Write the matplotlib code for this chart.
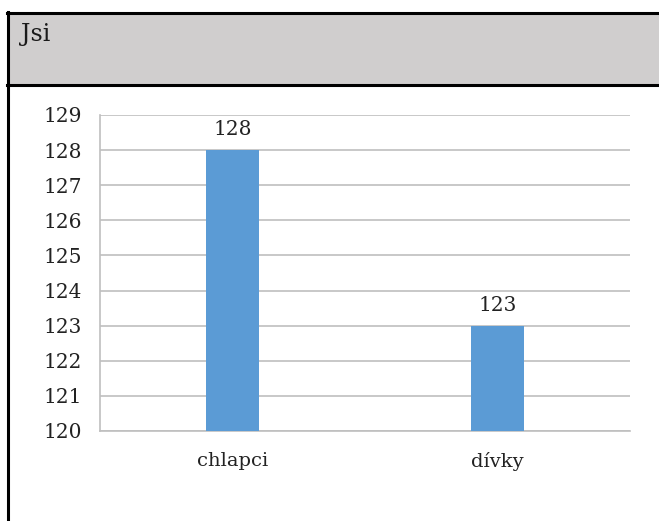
import matplotlib
matplotlib.use("Agg")
import matplotlib.pyplot as plt
from matplotlib.patches import Rectangle
from matplotlib.lines import Line2D

title = "Jsi"
categories = ["chlapci", "dívky"]
values = [128, 123]
y_ticks = [120, 121, 122, 123, 124, 125, 126, 127, 128, 129]

W, H = 659, 521
fig = plt.figure(figsize=(W / 100, H / 100), dpi=100)
plt.rcParams["font.family"] = ["DejaVu Serif"]

def fx(px):
    return px / W

def fy(py):
    return 1 - py / H

# header band with title
fig.patches.append(Rectangle((fx(8), fy(85)), 1 - fx(8), fy(13) - fy(85),
                             transform=fig.transFigure, facecolor="#D0CECE",
                             edgecolor="none", zorder=0))
fig.lines.append(Line2D([fx(7), 1], [fy(12.5), fy(12.5)], transform=fig.transFigure,
                        color="black", lw=2.2))
fig.lines.append(Line2D([fx(7), 1], [fy(85), fy(85)], transform=fig.transFigure,
                        color="black", lw=2.2))
fig.lines.append(Line2D([fx(7.5), fx(7.5)], [fy(11.5), 0], transform=fig.transFigure,
                        color="black", lw=2.2))
fig.text(fx(21), fy(34), title, fontsize=17, color="#1a1a1a",
         ha="left", va="center")

ax = fig.add_axes([fx(100), fy(431), fx(630) - fx(100), fy(115) - fy(431)])
x = list(range(len(categories)))
bars = ax.bar(x, values, width=0.2, bottom=0, color="#5B9BD5", zorder=3)
ax.set_xlim(-0.5, len(categories) - 0.5)
ax.set_ylim(y_ticks[0], y_ticks[-1])
ax.set_yticks(y_ticks)
ax.set_xticks(x)
ax.set_xticklabels(categories)
ax.grid(axis="y", color="#BFBFBF", lw=1.2, zorder=0)
for side in ["top", "right"]:
    ax.spines[side].set_visible(False)
ax.spines["left"].set_color("#BFBFBF")
ax.spines["bottom"].set_color("#BFBFBF")
ax.spines["left"].set_linewidth(1.2)
ax.spines["bottom"].set_linewidth(1.2)
ax.tick_params(axis="y", length=0, pad=13, labelsize=14.5, labelcolor="#222222")
ax.tick_params(axis="x", length=0, pad=15, labelsize=14, labelcolor="#222222")

for b, v in zip(bars, values):
    ax.annotate(str(v), (b.get_x() + b.get_width() / 2, v), xytext=(0, 8),
                textcoords="offset points", ha="center", va="bottom",
                fontsize=14.5, color="#222222")

fig.savefig("out.png", dpi=100)
